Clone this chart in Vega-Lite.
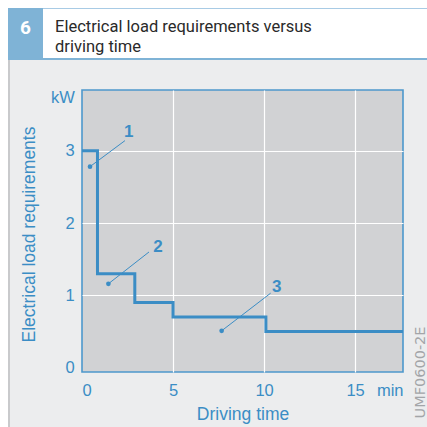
{
  "$schema": "https://vega.github.io/schema/vega-lite/v6.json",
  "background": "#ecedee",
  "padding": 0,
  "columns": 6,
  "spacing": 0,
  "bounds": "flush",
  "align": "each",
  "config": {"view": {"stroke": null}},
  "datasets": {
    "steps": [
      {"t": 0, "p": 3.0},
      {"t": 0.85, "p": 1.3},
      {"t": 2.9, "p": 0.9},
      {"t": 5.0, "p": 0.7},
      {"t": 10.1, "p": 0.5},
      {"t": 17.63, "p": 0.5}
    ],
    "ann": [
      {"n": "1", "px": 0.44, "py": 2.78, "qx": 2.36, "qy": 3.14, "lx": 2.57, "ly": 3.26},
      {"n": "2", "px": 1.45, "py": 1.16, "qx": 3.68, "qy": 1.60, "lx": 4.17, "ly": 1.67},
      {"n": "3", "px": 7.67, "py": 0.51, "qx": 10.36, "qy": 1.03, "lx": 10.70, "ly": 1.12}
    ]
  },
  "concat": [
    {"width": 8, "height": 8, "view": {"fill": "white"}, "data": {"values": []}, "mark": "point"},
    {"width": 35, "height": 8, "view": {"fill": "white"}, "data": {"values": []}, "mark": "point"},
    {"width": 24, "height": 8, "view": {"fill": "white"}, "data": {"values": []}, "mark": "point"},
    {"width": 15, "height": 8, "view": {"fill": "white"}, "data": {"values": []}, "mark": "point"},
    {"width": 321, "height": 8, "view": {"fill": "white"}, "data": {"values": []}, "mark": "point"},
    {"width": 24, "height": 8, "view": {"fill": "white"}, "data": {"values": []}, "mark": "point"},

    {"width": 8, "height": 52, "view": {"fill": "white"}, "data": {"values": []}, "mark": "point"},
    {"width": 35, "height": 52, "view": {"fill": "#7fb3d6"},
     "data": {"values": [{"num": "6"}]},
     "mark": {"type": "text", "font": "Roboto", "fontWeight": "bold", "fontSize": 19, "fill": "white", "baseline": "alphabetic"},
     "encoding": {"text": {"field": "num"}}},
    {"width": 24, "height": 52,
     "view": {"fill": {"gradient": "linear", "x1": 0, "y1": 0, "x2": 0, "y2": 1, "stops": [{"offset": 0, "color": "#a8cbe5"}, {"offset": 0.02, "color": "#a8cbe5"}, {"offset": 0.02, "color": "white"}, {"offset": 0.96, "color": "white"}, {"offset": 0.96, "color": "#7fb3d6"}, {"offset": 1, "color": "#7fb3d6"}]}},
     "data": {"values": []}, "mark": "point"},
    {"width": 15, "height": 52,
     "view": {"fill": {"gradient": "linear", "x1": 0, "y1": 0, "x2": 0, "y2": 1, "stops": [{"offset": 0, "color": "#a8cbe5"}, {"offset": 0.02, "color": "#a8cbe5"}, {"offset": 0.02, "color": "white"}, {"offset": 0.96, "color": "white"}, {"offset": 0.96, "color": "#7fb3d6"}, {"offset": 1, "color": "#7fb3d6"}]}},
     "data": {"values": []}, "mark": "point"},
    {"width": 321, "height": 52,
     "view": {"fill": {"gradient": "linear", "x1": 0, "y1": 0, "x2": 0, "y2": 1, "stops": [{"offset": 0, "color": "#a8cbe5"}, {"offset": 0.02, "color": "#a8cbe5"}, {"offset": 0.02, "color": "white"}, {"offset": 0.96, "color": "white"}, {"offset": 0.96, "color": "#7fb3d6"}, {"offset": 1, "color": "#7fb3d6"}]}},
     "data": {"values": []}, "mark": "point"},
    {"width": 24, "height": 52,
     "view": {"fill": {"gradient": "linear", "x1": 0, "y1": 0, "x2": 0, "y2": 1, "stops": [{"offset": 0, "color": "#a8cbe5"}, {"offset": 0.02, "color": "#a8cbe5"}, {"offset": 0.02, "color": "white"}, {"offset": 0.96, "color": "white"}, {"offset": 0.96, "color": "#7fb3d6"}, {"offset": 1, "color": "#7fb3d6"}]}},
     "data": {"values": []}, "mark": "point"},

    {"width": 8, "height": 30, "view": {"fill": "white"}, "data": {"values": []}, "mark": "point"},
    {"width": 35, "height": 30,
     "view": {"fill": {"gradient": "linear", "x1": 0, "y1": 0, "x2": 1, "y2": 0, "stops": [{"offset": 0, "color": "#c9cacc"}, {"offset": 0.057, "color": "#c9cacc"}, {"offset": 0.057, "color": "#ecedee"}, {"offset": 1, "color": "#ecedee"}]}},
     "data": {"values": []}, "mark": "point"},
    {"width": 1, "height": 1, "data": {"values": []}, "mark": "point"},
    {"width": 1, "height": 1, "data": {"values": []}, "mark": "point"},
    {"width": 1, "height": 1, "data": {"values": []}, "mark": "point"},
    {"width": 1, "height": 1, "data": {"values": []}, "mark": "point"},

    {"width": 8, "height": 282, "view": {"fill": "white"}, "data": {"values": []}, "mark": "point"},
    {"width": 35, "height": 282,
     "view": {"fill": {"gradient": "linear", "x1": 0, "y1": 0, "x2": 1, "y2": 0, "stops": [{"offset": 0, "color": "#c9cacc"}, {"offset": 0.057, "color": "#c9cacc"}, {"offset": 0.057, "color": "#ecedee"}, {"offset": 1, "color": "#ecedee"}]}},
     "data": {"values": []}, "mark": "point"},
    {"width": 1, "height": 1, "data": {"values": []}, "mark": "point"},
    {"width": 1, "height": 1, "data": {"values": []}, "mark": "point"},
    {
      "width": 321,
      "height": 282,
      "title": {"text": ["Electrical load requirements versus", "driving time"], "anchor": "start", "frame": "group", "orient": "top",
        "baseline": "alphabetic", "offset": 21.5, "dx": -27, "lineHeight": 20,
        "font": "Roboto", "fontSize": 16.5, "fontWeight": "normal", "color": "#2a2a2a"},
      "view": {"fill": "#d1d2d4", "stroke": "#4d98cc", "strokeWidth": 1.6},
      "resolve": {"axis": {"y": "independent"}},
      "layer": [
        {
          "data": {"name": "steps"},
          "mark": {"type": "line", "interpolate": "step-after", "color": "#3b8dc5", "strokeWidth": 3},
          "encoding": {
            "x": {"field": "t", "type": "quantitative", "title": "Driving time",
              "scale": {"domain": [0, 17.63], "nice": false, "zero": false},
              "axis": {"values": [0, 5, 10, 15, 17.63], "labelExpr": "datum.value > 17 ? 'min' : datum.label",
                "labelFlush": true, "labelOverlap": false, "labelPadding": 10, "ticks": false, "domain": false,
                "grid": true, "gridColor": "white", "gridWidth": 1.2,
                "gridOpacity": {"condition": {"test": "datum.value <= 0 || datum.value > 17", "value": 0}, "value": 1},
                "labelColor": "#3b8dc5", "labelFont": "Liberation Sans", "labelFontSize": 16.5,
                "titleColor": "#3b8dc5", "titleFont": "Liberation Sans", "titleFontSize": 17.5, "titleFontWeight": "normal", "titlePadding": 7}},
            "y": {"field": "p", "type": "quantitative", "title": "Electrical load requirements",
              "scale": {"domain": [-0.06, 3.84], "nice": false, "zero": false},
              "axis": {"values": [0, 1, 2, 3, 3.73], "labelExpr": "datum.value > 3.5 ? 'kW' : datum.label",
                "labelFlush": false, "labelOverlap": false, "labelPadding": 7.7, "ticks": false, "domain": false,
                "grid": true, "gridColor": "white", "gridWidth": 1.2,
                "gridOpacity": {"condition": {"test": "datum.value <= 0 || datum.value > 3.5", "value": 0}, "value": 1},
                "labelColor": "#3b8dc5", "labelFont": "Liberation Sans", "labelFontSize": 16.5,
                "titleColor": "#3b8dc5", "titleFont": "Liberation Sans", "titleFontSize": 17.5, "titleFontWeight": "normal",
                "titleX": -44, "titleY": 144}}
          }
        },
        {
          "data": {"name": "ann"},
          "mark": {"type": "rule", "color": "#3b8dc5", "strokeWidth": 1},
          "encoding": {
            "x": {"field": "px", "type": "quantitative", "title": "Driving time"},
            "y": {"field": "py", "type": "quantitative", "axis": null},
            "x2": {"field": "qx"},
            "y2": {"field": "qy"}
          }
        },
        {
          "data": {"name": "ann"},
          "mark": {"type": "point", "filled": true, "opacity": 1, "color": "#3b8dc5", "size": 22},
          "encoding": {
            "x": {"field": "px", "type": "quantitative", "title": "Driving time"},
            "y": {"field": "py", "type": "quantitative", "title": "UMF0600-2E",
              "axis": {"orient": "right", "labels": false, "ticks": false, "domain": false, "grid": false,
                "titleAngle": 270, "titleX": 17.5, "titleY": 282, "titleAlign": "center", "titleBaseline": "middle",
                "titleFont": "DejaVu Sans", "titleFontSize": 14.5, "titleFontWeight": "normal", "titleColor": "#a3a5a8"}}
          }
        },
        {
          "data": {"name": "ann"},
          "mark": {"type": "text", "font": "Liberation Sans", "fontWeight": "bold", "fontSize": 17, "color": "#3b8dc5", "align": "center", "baseline": "middle"},
          "encoding": {
            "x": {"field": "lx", "type": "quantitative", "title": "Driving time"},
            "y": {"field": "ly", "type": "quantitative", "axis": null},
            "text": {"field": "n"}
          }
        }
      ]
    },
    {"width": 1, "height": 1, "data": {"values": []}, "mark": "point"},

    {"width": 8, "height": 55, "view": {"fill": "white"}, "data": {"values": []}, "mark": "point"},
    {"width": 35, "height": 55,
     "view": {"fill": {"gradient": "linear", "x1": 0, "y1": 0, "x2": 1, "y2": 0, "stops": [{"offset": 0, "color": "#c9cacc"}, {"offset": 0.057, "color": "#c9cacc"}, {"offset": 0.057, "color": "#ecedee"}, {"offset": 1, "color": "#ecedee"}]}},
     "data": {"values": []}, "mark": "point"},
    {"width": 1, "height": 1, "data": {"values": []}, "mark": "point"},
    {"width": 1, "height": 1, "data": {"values": []}, "mark": "point"},
    {"width": 1, "height": 1, "data": {"values": []}, "mark": "point"},
    {"width": 1, "height": 1, "data": {"values": []}, "mark": "point"}
  ]
}
